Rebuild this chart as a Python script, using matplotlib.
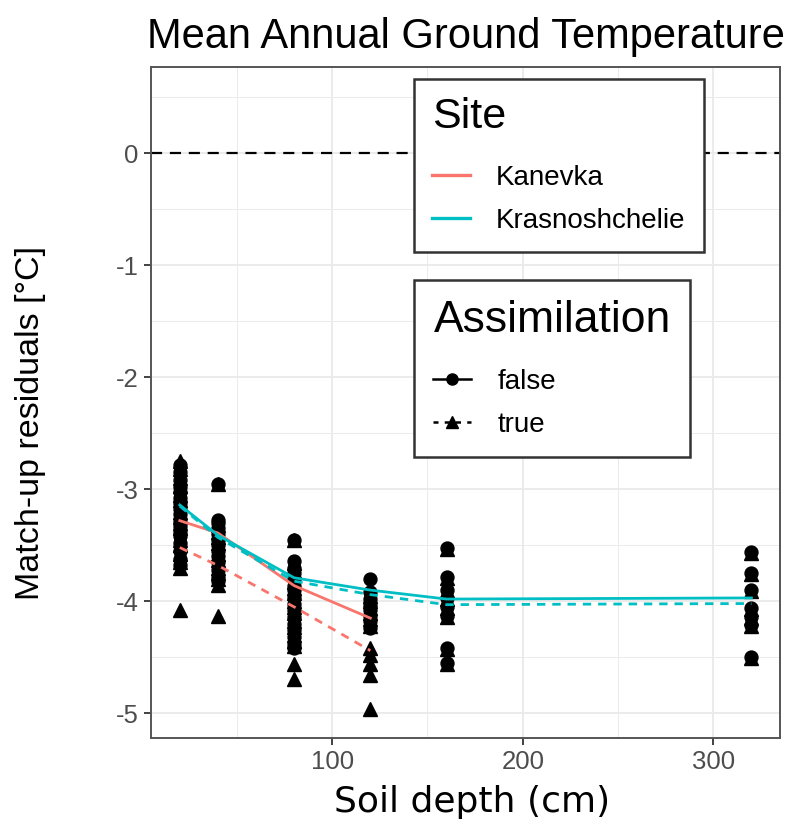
import matplotlib
matplotlib.use("Agg")
import matplotlib.pyplot as plt
from matplotlib.lines import Line2D
from matplotlib.ticker import FixedLocator, FixedFormatter

# ---------------- data ----------------
depths = [20, 40, 80, 120, 160, 320]

false_20 = [-2.78, -2.85, -2.92, -2.98, -3.02, -3.08, -3.12, -3.18, -3.22, -3.28,
            -3.33, -3.38, -3.42, -3.48, -3.55, -3.62, -3.68]
true_20 = [-2.75, -2.82, -2.90, -2.97, -3.05, -3.10, -3.20, -3.25, -3.30, -3.35,
           -3.45, -3.50, -3.58, -3.65, -3.70, -4.08]
false_40 = [-2.95, -3.27, -3.30, -3.35, -3.40, -3.45, -3.50, -3.55, -3.60, -3.65,
            -3.72, -3.78, -3.82]
true_40 = [-2.95, -3.32, -3.38, -3.43, -3.48, -3.58, -3.63, -3.70, -3.75, -3.80,
           -3.85, -4.13]
false_80 = [-3.45, -3.64, -3.70, -3.75, -3.80, -3.86, -3.90, -3.96, -4.02, -4.08,
            -4.14, -4.20, -4.26, -4.32, -4.38, -4.42]
true_80 = [-3.45, -3.66, -3.73, -3.83, -3.88, -3.93, -4.00, -4.05, -4.10, -4.18,
           -4.23, -4.30, -4.35, -4.40, -4.56, -4.69]
false_120 = [-3.80, -3.92, -3.98, -4.03, -4.08, -4.13, -4.18, -4.24]
true_120 = [-3.95, -4.00, -4.06, -4.10, -4.16, -4.22, -4.42, -4.48, -4.56, -4.66, -4.96]
false_160 = [-3.52, -3.78, -3.90, -3.97, -4.05, -4.13, -4.42, -4.55]
true_160 = [-3.53, -3.79, -3.91, -3.98, -4.06, -4.14, -4.43, -4.56]
false_320 = [-3.56, -3.75, -3.90, -4.06, -4.14, -4.21, -4.50]
true_320 = [-3.57, -3.76, -3.91, -4.07, -4.15, -4.22, -4.51]

false_pts = [false_20, false_40, false_80, false_120, false_160, false_320]
true_pts = [true_20, true_40, true_80, true_120, true_160, true_320]

kan_depth = [20, 40, 80, 120]
kan_false = [-3.28, -3.39, -3.86, -4.15]
kan_true = [-3.52, -3.68, -4.05, -4.44]
kras_depth = [20, 40, 80, 120, 160, 320]
kras_false = [-3.14, -3.41, -3.79, -3.90, -3.98, -3.97]
kras_true = [-3.15, -3.43, -3.82, -3.94, -4.03, -4.02]

site_labels = ["Kanevka", "Krasnoshchelie"]
assim_labels = ["false", "true"]
x_ticks = [100, 200, 300]
y_ticks = [0, -1, -2, -3, -4, -5]
y_ticklabels = ["0", "-1", "-2", "-3", "-4", "-5"]

KAN = "#F8766D"
KRAS = "#00BFC4"
SANS = ["Liberation Sans", "DejaVu Sans"]

# ---------------- figure ----------------
fig = plt.figure(figsize=(8, 8.25), dpi=100)
ax = fig.add_axes([0.189, 0.1055, 0.786, 0.8133])

ax.set_xlim(5, 335)
ax.set_ylim(-5.22, 0.77)

ax.xaxis.set_major_locator(FixedLocator(x_ticks))
ax.xaxis.set_minor_locator(FixedLocator([50, 150, 250]))
ax.yaxis.set_major_locator(FixedLocator(y_ticks))
ax.yaxis.set_major_formatter(FixedFormatter(y_ticklabels))
ax.yaxis.set_minor_locator(FixedLocator([0.5, -0.5, -1.5, -2.5, -3.5, -4.5]))

ax.grid(True, which="major", color="#EBEBEB", lw=1.4, zorder=0)
ax.grid(True, which="minor", color="#EBEBEB", lw=0.7, zorder=0)
ax.set_axisbelow(True)

for sp in ax.spines.values():
    sp.set_color("#555555")
    sp.set_linewidth(1.4)

ax.tick_params(which="major", length=5, width=1.3, color="#333333",
               labelsize=18.5, labelcolor="#4D4D4D", pad=4)
ax.tick_params(which="minor", length=0)
for lab in ax.get_xticklabels() + ax.get_yticklabels():
    lab.set_family(SANS)

ax.axhline(0, color="black", lw=1.6, ls=(0, (5, 3.5)), zorder=2)

for d, vals in zip(depths, false_pts):
    ax.plot([d] * len(vals), vals, ls="none", marker="o", ms=9.3,
            color="black", zorder=3)
for d, vals in zip(depths, true_pts):
    ax.plot([d] * len(vals), vals, ls="none", marker="^", ms=10.3,
            color="black", zorder=3)

ax.plot(kan_depth, kan_false, color=KAN, lw=2.0, zorder=4)
ax.plot(kan_depth, kan_true, color=KAN, lw=2.0, ls=(0, (3, 2.5)), zorder=4)
ax.plot(kras_depth, kras_false, color=KRAS, lw=2.0, zorder=4)
ax.plot(kras_depth, kras_true, color=KRAS, lw=2.0, ls=(0, (3, 2.5)), zorder=4)

ax.set_title("Mean Annual Ground Temperature", fontsize=30, family=SANS,
             pad=14, loc="center", x=0.5)
ax.set_ylabel("Match-up residuals [°C]", fontsize=24.5, family=SANS)
ax.yaxis.set_label_coords(-0.168, 0.47)
ax.set_xlabel("Soil depth (cm)", fontsize=26, family="DejaVu Sans")
ax.xaxis.set_label_coords(0.51, -0.07)
ax.xaxis.label.set_va("top")

# ---------------- legends ----------------
site_handles = [Line2D([], [], color=KAN, lw=2.4), Line2D([], [], color=KRAS, lw=2.4)]
leg1 = ax.legend(site_handles, site_labels, title="Site", loc="upper left",
                 bbox_to_anchor=(0.418, 0.982), frameon=True, fancybox=False,
                 edgecolor="#333333", framealpha=1,
                 title_fontsize=31, alignment="left", handlelength=1.35,
                 handletextpad=0.95, labelspacing=0.62, borderpad=0.65,
                 borderaxespad=0, prop={"family": SANS, "size": 20})
leg1.get_title().set_family(SANS)
leg1.get_frame().set_linewidth(1.8)
leg1._legend_box.sep = 20
leg1.set_zorder(6)
ax.add_artist(leg1)

assim_handles = [Line2D([], [], color="black", lw=1.8, marker="o", ms=8),
                 Line2D([], [], color="black", lw=1.8, ls=(0, (2, 2.5)),
                        marker="^", ms=9)]
leg2 = ax.legend(assim_handles, assim_labels, title="Assimilation", loc="upper left",
                 bbox_to_anchor=(0.418, 0.682), frameon=True, fancybox=False,
                 edgecolor="#333333", framealpha=1,
                 title_fontsize=32, alignment="left", handlelength=1.35,
                 handletextpad=0.95, labelspacing=0.62, borderpad=0.7,
                 borderaxespad=0, prop={"family": SANS, "size": 20})
leg2.get_title().set_family(SANS)
leg2.get_frame().set_linewidth(1.8)
leg2._legend_box.sep = 20
leg2.set_zorder(6)

fig.savefig("out.png", dpi=100)
